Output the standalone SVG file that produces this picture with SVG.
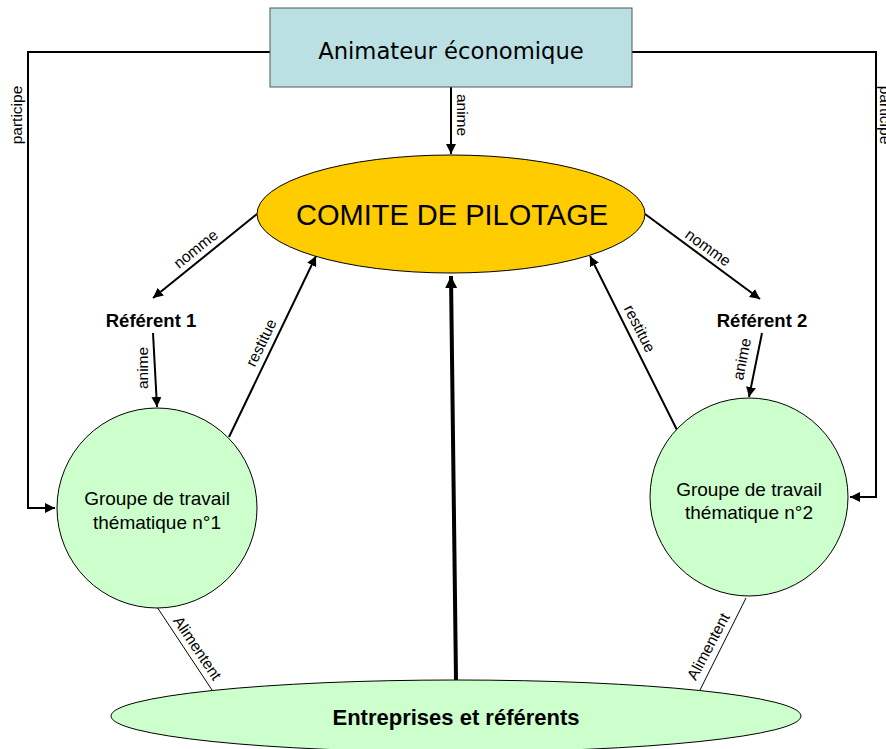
<svg xmlns="http://www.w3.org/2000/svg" width="886" height="749" viewBox="0 0 886 749">
<defs>
<marker id="ah" viewBox="0 0 10 10" refX="10" refY="5" markerWidth="5" markerHeight="5" orient="auto" markerUnits="strokeWidth">
<path d="M0,0 L10,5 L0,10 z" fill="#000"/>
</marker>
<marker id="ahs" viewBox="0 0 10 10" refX="10" refY="5" markerWidth="3.2" markerHeight="3" orient="auto" markerUnits="strokeWidth">
<path d="M0,0 L10,5 L0,10 z" fill="#000"/>
</marker>
<style>
.t{font-family:"Liberation Sans",Arial,sans-serif;fill:#000}
.lbl{font-size:15.5px}
.c{stroke:#000;stroke-width:2;fill:none}
.thin{stroke:#000;stroke-width:1;fill:none}
</style>
</defs>
<rect width="886" height="749" fill="#fff"/>
<g id="connectors">
<path class="c" d="M270,52 H28 V508 H55" marker-end="url(#ah)"/>
<path class="c" d="M632,52 H876 V497 H850" marker-end="url(#ah)"/>
<path class="c" d="M451,87 V154" marker-end="url(#ah)"/>
<path class="c" d="M257,214 L153,298" marker-end="url(#ah)"/>
<path class="c" d="M645,214 L760,299" marker-end="url(#ah)"/>
<path class="c" d="M153,333 L157,407" marker-end="url(#ah)"/>
<path class="c" d="M762,333 L749,397" marker-end="url(#ah)"/>
<path class="c" d="M229,437 L316,256" marker-end="url(#ah)"/>
<path class="c" d="M677,430 L590,256" marker-end="url(#ah)"/>
<path d="M456,680 L451,276" stroke="#000" stroke-width="4" fill="none" marker-end="url(#ahs)"/>
<path class="thin" d="M157,607 L212,690"/>
<path class="thin" d="M746,598 L700,690"/>
<text class="t lbl" transform="translate(22,115) rotate(-90)" text-anchor="middle">participe</text>
<text class="t lbl" transform="translate(880,115) rotate(90)" text-anchor="middle">participe</text>
<text class="t lbl" transform="translate(457,115) rotate(90)" text-anchor="middle">anime</text>
<text class="t lbl" transform="translate(199,253) rotate(-39)" text-anchor="middle">nomme</text>
<text class="t lbl" transform="translate(705,252) rotate(36)" text-anchor="middle">nomme</text>
<text class="t lbl" transform="translate(148,368) rotate(-90)" text-anchor="middle">anime</text>
<text class="t lbl" transform="translate(747,360) rotate(-79)" text-anchor="middle">anime</text>
<text class="t lbl" transform="translate(266,345) rotate(-64)" text-anchor="middle">restitue</text>
<text class="t lbl" transform="translate(635,331) rotate(63)" text-anchor="middle">restitue</text>
<text class="t lbl" transform="translate(193,651) rotate(56)" text-anchor="middle">Alimentent</text>
<text class="t lbl" transform="translate(713,649) rotate(-62)" text-anchor="middle">Alimentent</text>
</g>
<g id="animateur">
<rect x="270" y="8" width="362" height="79" fill="#BBE0E3" stroke="#555" stroke-width="1"/>
<text x="451" y="59" text-anchor="middle" style="font-family:'DejaVu Sans',Verdana,sans-serif;font-size:22.7px">Animateur économique</text>
</g>
<g id="comite">
<ellipse cx="451" cy="214" rx="194" ry="59" fill="#FFCC00" stroke="#000" stroke-width="1"/>
<text class="t" x="452" y="225" text-anchor="middle" font-size="29">COMITE DE PILOTAGE</text>
</g>
<g id="referent1">
<text class="t" x="151" y="327" text-anchor="middle" font-size="18.5" font-weight="bold">Référent 1</text>
</g>
<g id="referent2">
<text class="t" x="762" y="327" text-anchor="middle" font-size="18.5" font-weight="bold">Référent 2</text>
</g>
<g id="groupe1">
<circle cx="157" cy="508" r="100" fill="#CCFFCC" stroke="#000" stroke-width="1"/>
<text class="t" x="157" y="505" text-anchor="middle" font-size="19">Groupe de travail</text>
<text class="t" x="157" y="529" text-anchor="middle" font-size="19">thématique n°1</text>
</g>
<g id="groupe2">
<circle cx="749" cy="497" r="99" fill="#CCFFCC" stroke="#000" stroke-width="1"/>
<text class="t" x="749" y="496" text-anchor="middle" font-size="19">Groupe de travail</text>
<text class="t" x="749" y="519" text-anchor="middle" font-size="19">thématique n°2</text>
</g>
<g id="entreprises">
<ellipse cx="456" cy="716" rx="345" ry="36" fill="#CCFFCC" stroke="#000" stroke-width="1"/>
<text class="t" x="456" y="725" text-anchor="middle" font-size="22" font-weight="bold">Entreprises et référents</text>
</g>
</svg>
